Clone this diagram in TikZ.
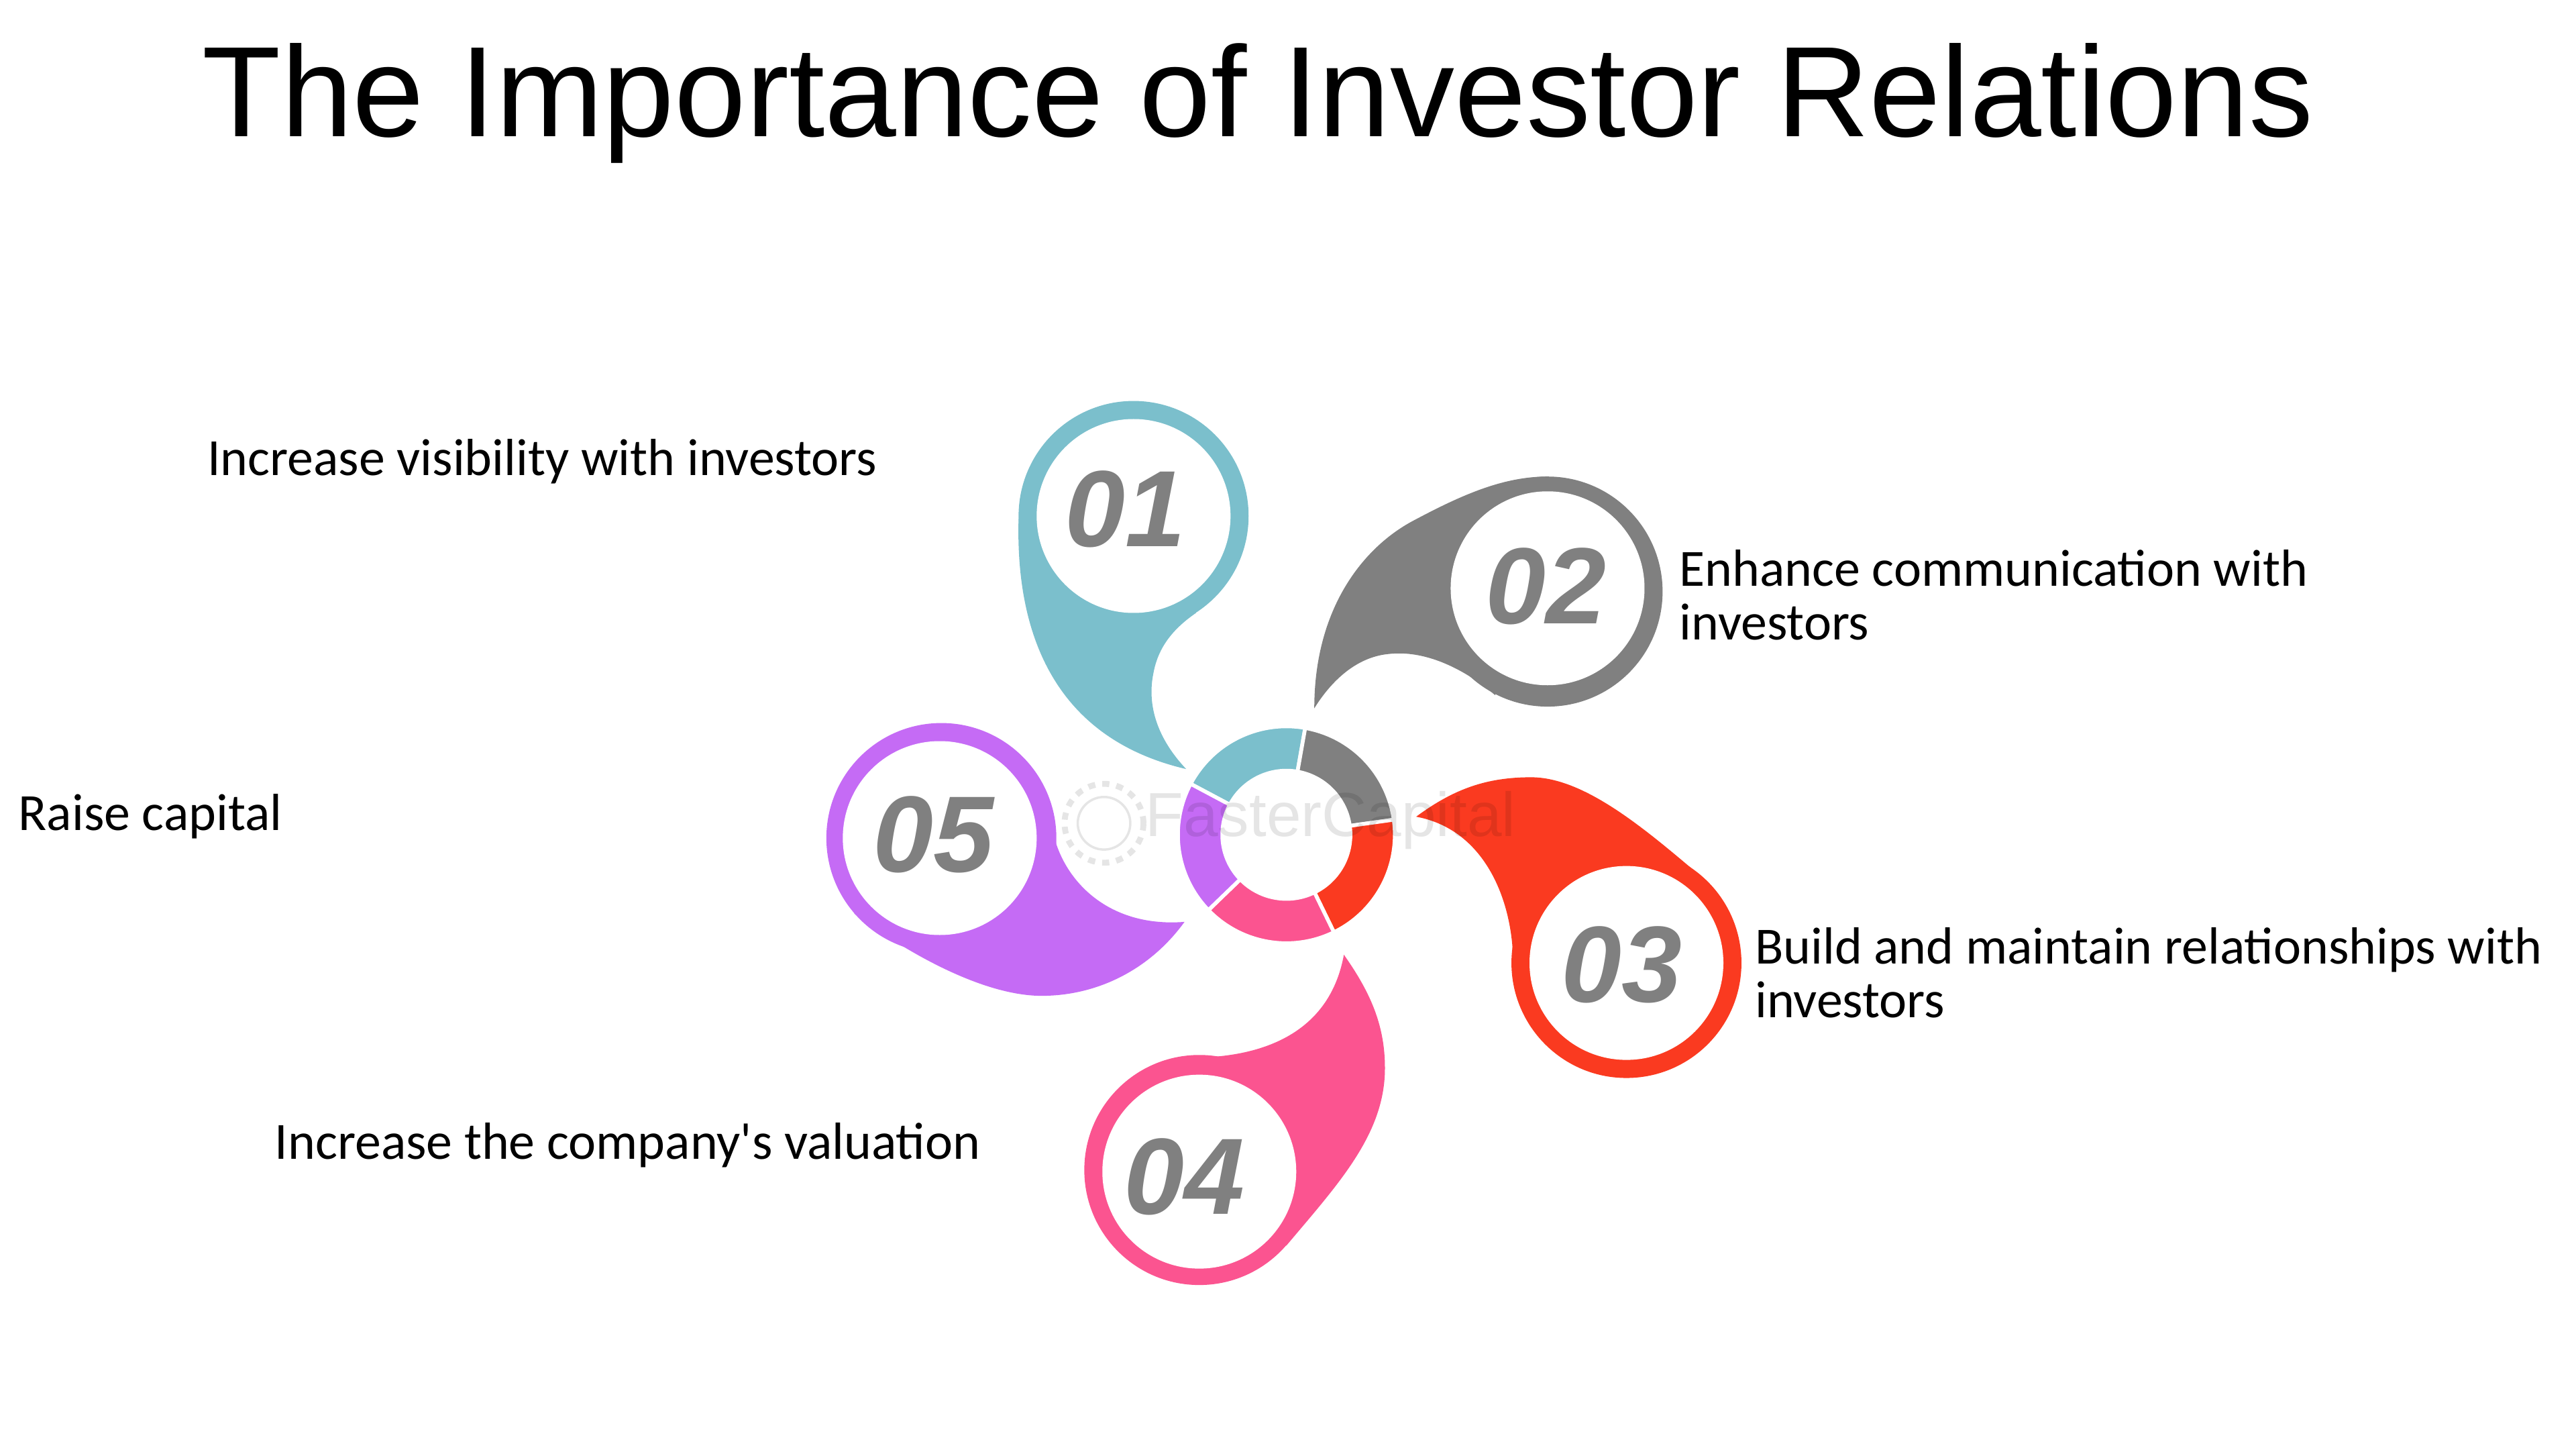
\documentclass[tikz,border=0pt]{standalone}
\usepackage{fontspec}
\setmainfont{Liberation Sans}
\newfontfamily\labelfont{Carlito}
\definecolor{petalteal}{HTML}{7BBFCC}
\definecolor{petalgray}{HTML}{808080}
\definecolor{petalred}{HTML}{FA3A20}
\definecolor{petalpink}{HTML}{FB5490}
\definecolor{petalpurple}{HTML}{C56BF5}
\tikzset{
    petalhole/.style={circle,fill=white,inner sep=0pt,minimum size=2.89cm},
    petalnumber/.style={inner sep=0pt,text=petalgray,font=\fontsize{46}{50}\selectfont\bfseries\itshape},
    petallabel/.style={anchor=west,inner sep=0pt,align=left,
        font=\labelfont\fontsize{22.15}{22.9}\selectfont}
}
\begin{document}
\begin{tikzpicture}[x=0.02449cm,y=0.02449cm]
    \useasboundingbox (0,0) rectangle (1568,-882);

    % Title
    \node [anchor=base west,inner sep=0pt,font=\fontsize{54.6}{60}\selectfont] (title) at (123,-83) {The Importance of Investor Relations};

    % Ring in the middle
    \begin{scope}[shift={(783,-508)}]
        \foreach \a/\col in {80/petalteal,8/petalgray,-64/petalred,-136/petalpink,-208/petalpurple} {
            \fill[\col,draw=white,line width=1.6pt] (\a:39) arc[start angle=\a,delta angle=72,radius=39]
                -- (\a+72:66) arc[start angle=\a+72,delta angle=-72,radius=66] -- cycle;
        }
    \end{scope}

    % Petals
    \fill[petalteal] (690,-314) circle (70);
    \fill[petalteal] (620,-316) .. controls (618,-390) and (645,-450) .. (722,-468)
        .. controls (705,-450) and (698,-430) .. (702,-410)
        .. controls (705,-393) and (715,-382) .. (728,-373) -- (690,-314) -- cycle;

    \fill[petalgray] (942,-360) circle (70);
    \fill[petalgray] (800,-431) .. controls (800,-370) and (830,-333) .. (860,-317)
        .. controls (890,-301) and (915,-290) .. (942,-290) -- (942,-360) -- (910,-423)
        .. controls (895,-410) and (870,-395) .. (845,-398)
        .. controls (825,-400) and (810,-415) .. (800,-431) -- cycle;

    \fill[petalred] (990,-586) circle (70);
    \fill[petalred] (862,-497) .. controls (885,-480) and (905,-473) .. (932,-473)
        .. controls (965,-473) and (1003,-506) .. (1035,-533)
        -- (1060,-586) -- (921,-586)
        .. controls (921,-550) and (905,-505) .. (862,-497) -- cycle;

    \fill[petalpink] (730,-712) circle (70);
    \fill[petalpink] (818,-581) .. controls (835,-605) and (843,-625) .. (843,-650)
        .. controls (843,-690) and (815,-720) .. (783,-758)
        -- (730,-712) -- (740,-643) .. controls (775,-640) and (810,-625) .. (818,-581) -- cycle;

    \fill[petalpurple] (573,-510) circle (70);
    \fill[petalpurple] (721,-561) .. controls (700,-590) and (668,-606) .. (634,-606)
        .. controls (600,-606) and (555,-582) .. (520,-556) -- (573,-510) -- (640,-500)
        .. controls (643,-530) and (670,-565) .. (721,-561) -- cycle;

    % White middles and numbers
    \node [petalhole] (hole1) at (690,-314) {};
    \node [petalhole] (hole2) at (942,-358) {};
    \node [petalhole] (hole3) at (990,-586) {};
    \node [petalhole] (hole4) at (730,-713) {};
    \node [petalhole] (hole5) at (572,-510) {};
    \node [petalnumber] (num1) at (685,-310) {01};
    \node [petalnumber] (num2) at (941,-357) {02};
    \node [petalnumber] (num3) at (987,-587) {03};
    \node [petalnumber] (num4) at (721,-716) {04};
    \node [petalnumber] (num5) at (568,-508) {05};

    % Labels
    \node [petallabel] (visibility) at (126,-281) {Increase visibility with investors};
    \node [petallabel] (communication) at (1022,-362) {Enhance communication with\\investors};
    \node [petallabel] (capital) at (11,-497) {Raise capital};
    \node [petallabel] (relationships) at (1068,-592) {Build and maintain relationships with\\investors};
    \node [petallabel] (valuation) at (167,-697) {Increase the company's valuation};

    % Faint mark over the ring
    \draw[black,opacity=.1,line width=2.5pt,dashed] (672,-501) circle (24);
    \draw[black,opacity=.1,line width=1pt] (672,-501) circle (16);
    \node [anchor=west,inner sep=0pt,text=black,text opacity=.1,font=\fontsize{26.4}{30}\selectfont] (mark) at (697,-499) {FasterCapital};
\end{tikzpicture}
\end{document}
